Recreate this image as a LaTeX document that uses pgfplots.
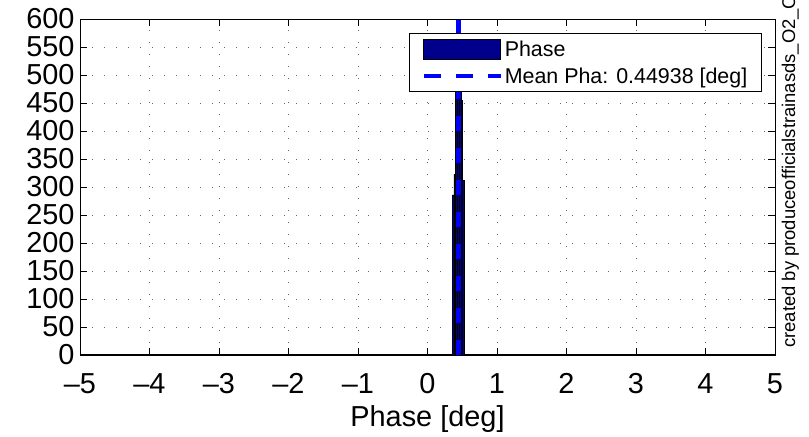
\documentclass[border=0pt]{standalone}
\usepackage{fontspec}
\setmainfont{Liberation Sans}
\usepackage{pgfplots}
\pgfplotsset{compat=1.18}
\definecolor{barblue}{RGB}{0,0,140}
\begin{document}
\begin{tikzpicture}
\begin{axis}[
  at={(0,0)}, anchor=south west,
  scale only axis, width=695bp, height=336bp,
  xmin=-5, xmax=5, ymin=0, ymax=600,
  xtick={-5,-4,...,5},
  xticklabels={–5,–4,–3,–2,–1,0,1,2,3,4,5},
  ytick={0,50,...,600},
  tick align=inside, major tick length=7bp,
  axis line style={line width=1bp},
  every tick/.style={black, line width=0.8bp},
  grid=major, grid style={black!60, line width=0.9bp, dash pattern=on 1.2bp off 10.8bp},
  /pgf/number format/assume math mode=true,
  tick label style={font=\fontsize{29}{29}\selectfont},
  xticklabel style={yshift=-15bp},
  yticklabel style={xshift=-2bp},
  xlabel={Phase [deg]},
  xlabel style={font=\fontsize{29}{29}\selectfont, yshift=-5bp},
  legend style={at={(0.981,0.958)}, anchor=north east,
    font=\fontsize{21.5}{24}\selectfont, draw=black, line width=1bp,
    fill=white, inner xsep=12bp, inner ysep=5bp, row sep=6bp},
  legend cell align=left,
]
\addplot[black, line width=2.5bp, forget plot] coordinates {(-5,0) (5,0)};
\addplot[ybar interval, fill=barblue, draw=black, line width=0.4bp,
  legend image code/.code={\draw[fill=barblue, draw=black, line width=0.6bp] (0bp,-10bp) rectangle (77bp,10bp);}]
  coordinates {(0.355,286) (0.38,323) (0.405,470) (0.43,465) (0.455,470) (0.48,455) (0.505,312) (0.53,312)};
\addlegendentry{Phase}
\addplot[blue, line width=4.5bp, dash pattern=on 15bp off 17bp,
  legend image code/.code={\draw[blue, line width=4.5bp, dash pattern=on 17bp off 15bp] (0bp,0bp) -- (77bp,0bp);}]
  coordinates {(0.44938,0) (0.44938,600)};
\addlegendentry{Mean Pha: 0.44938 [deg]}
\end{axis}
\node[rotate=90, anchor=base west, font=\fontsize{18.5}{18.5}\selectfont, inner sep=0pt] at (715bp,7bp) {created by produceofficialstrainasds\_O2\_C};
\pgfresetboundingbox
\useasboundingbox (-80bp,-82bp) rectangle (729bp,355bp);
\end{tikzpicture}
\end{document}
